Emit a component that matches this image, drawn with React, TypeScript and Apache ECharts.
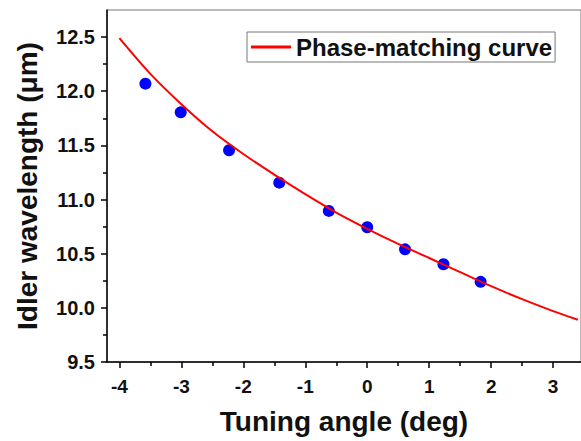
import React, { useEffect, useRef } from 'react';
import * as echarts from 'echarts';

// Phase-matching curve
const curveAngle = [-4, -3.5, -3, -2.5, -2, -1.5, -1, -0.5, 0, 0.5, 1, 1.5, 2, 2.5, 3, 3.4];
const curveWavelength = [12.49, 12.16, 11.88, 11.63, 11.42, 11.23, 11.05, 10.88, 10.73, 10.59, 10.46, 10.33, 10.2, 10.08, 9.97, 9.89];

// Measured points
const measAngle = [-3.58, -3.01, -2.23, -1.42, -0.62, 0.0, 0.61, 1.23, 1.83];
const measWavelength = [12.07, 11.805, 11.455, 11.156, 10.895, 10.744, 10.54, 10.403, 10.24];

// Ticks
const xMajorTicks = [-4, -3, -2, -1, 0, 1, 2, 3];
const xMinorTicks = [-3.5, -2.5, -1.5, -0.5, 0.5, 1.5, 2.5];
const yMajorTicks = [9.5, 10.0, 10.5, 11.0, 11.5, 12.0, 12.5];
const yMinorTicks = [9.75, 10.25, 10.75, 11.25, 11.75, 12.25];

const FONT = 'Arial, "Liberation Sans", sans-serif';
const AXIS_COLOR = '#000';
const TEXT_COLOR = '#111';

export default function App() {
  const ref = useRef<HTMLDivElement>(null);
  useEffect(() => {
    const chart = echarts.init(ref.current!, null, { renderer: 'svg' });
    const xRange = { min: -4.2, max: 3.45 };
    const yRange = { min: 9.5, max: 12.75 };
    chart.setOption({
      animation: false,
      backgroundColor: '#fff',
      grid: {
        left: 107,
        top: 10,
        right: 0,
        bottom: 79,
        show: true,
        borderColor: '#777',
        borderWidth: 1,
        backgroundColor: '#fff',
      },
      legend: {
        data: ['Phase-matching curve'],
        left: 247,
        top: 32,
        icon: 'rect',
        itemWidth: 40,
        itemHeight: 3,
        borderColor: '#777',
        borderWidth: 1,
        backgroundColor: '#fff',
        padding: [3, 3, 3, 4],
        textStyle: { fontSize: 24, fontWeight: 'bold', color: TEXT_COLOR, fontFamily: FONT },
      },
      xAxis: [
        {
          type: 'value',
          ...xRange,
          position: 'bottom',
          axisLine: { show: true, onZero: false, lineStyle: { color: AXIS_COLOR, width: 1.5 } },
          axisTick: { show: true, length: 6, customValues: xMajorTicks, lineStyle: { color: AXIS_COLOR, width: 1.5 } },
          axisLabel: {
            customValues: xMajorTicks,
            margin: 15,
            fontSize: 19,
            fontWeight: 'bold',
            color: TEXT_COLOR,
            fontFamily: FONT,
          },
          splitLine: { show: false },
          name: 'Tuning angle (deg)',
          nameLocation: 'middle',
          nameGap: 45,
          nameTextStyle: { fontSize: 28, fontWeight: 'bold', color: TEXT_COLOR, fontFamily: FONT },
        },
        {
          type: 'value',
          ...xRange,
          position: 'bottom',
          axisLine: { show: false, onZero: false },
          axisTick: { show: true, length: 4, customValues: xMinorTicks, lineStyle: { color: AXIS_COLOR, width: 1.5 } },
          axisLabel: { show: false },
          splitLine: { show: false },
        },
      ],
      yAxis: [
        {
          type: 'value',
          ...yRange,
          position: 'left',
          axisLine: { show: true, onZero: false, lineStyle: { color: AXIS_COLOR, width: 1.5 } },
          axisTick: { show: true, length: 6, customValues: yMajorTicks, lineStyle: { color: AXIS_COLOR, width: 1.5 } },
          axisLabel: {
            customValues: yMajorTicks,
            margin: 12,
            fontSize: 20,
            fontWeight: 'bold',
            color: TEXT_COLOR,
            fontFamily: FONT,
            formatter: (v: number) => v.toFixed(1),
          },
          splitLine: { show: false },
          name: 'Idler wavelength (\u03bcm)',
          nameLocation: 'middle',
          nameGap: 66,
          nameTextStyle: { fontSize: 28, fontWeight: 'bold', color: TEXT_COLOR, fontFamily: FONT },
        },
        {
          type: 'value',
          ...yRange,
          position: 'left',
          axisLine: { show: false, onZero: false },
          axisTick: { show: true, length: 4, customValues: yMinorTicks, lineStyle: { color: AXIS_COLOR, width: 1.5 } },
          axisLabel: { show: false },
          splitLine: { show: false },
        },
      ],
      series: [
        {
          name: 'Phase-matching curve',
          type: 'line',
          xAxisIndex: 0,
          yAxisIndex: 0,
          data: curveAngle.map((a, i) => [a, curveWavelength[i]]),
          smooth: 0.3,
          showSymbol: false,
          symbol: 'none',
          lineStyle: { color: '#ff0000', width: 2 },
          itemStyle: { color: '#ff0000' },
        },
        {
          name: 'Measured',
          type: 'scatter',
          xAxisIndex: 0,
          yAxisIndex: 0,
          data: measAngle.map((a, i) => [a, measWavelength[i]]),
          symbol: 'circle',
          symbolSize: 12,
          itemStyle: { color: '#0000ff', opacity: 1 },
        },
      ],
    });
    return () => chart.dispose();
  }, []);
  return (
    <div
      ref={ref}
      style={{ position: 'absolute', left: 0, top: 0, width: 581, height: 441, background: '#fff' }}
    />
  );
}
